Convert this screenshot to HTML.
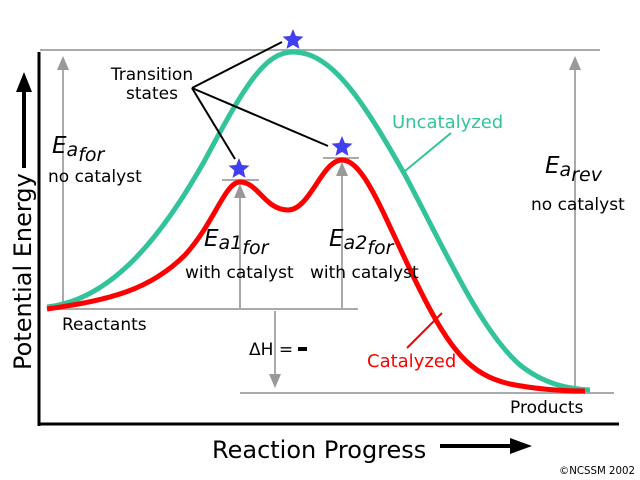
<!DOCTYPE html>
<html><head><style>
html,body{margin:0;padding:0;background:#fff;}
svg{display:block;}
text{font-family:"DejaVu Sans","Liberation Sans",sans-serif;}
</style></head><body>
<svg width="640" height="480" viewBox="0 0 640 480" xmlns="http://www.w3.org/2000/svg">
<g stroke="#aaa" stroke-width="2" fill="none">
<line x1="40" y1="50" x2="600" y2="50"/>
<line x1="47" y1="309" x2="358" y2="309"/>
<line x1="240" y1="393" x2="614" y2="393"/>
<line x1="222" y1="180" x2="259" y2="180"/>
<line x1="323" y1="158" x2="359" y2="158"/>
</g>
<g stroke="#aaa" stroke-width="2">
<line x1="63" y1="309" x2="63" y2="65"/>
<line x1="575" y1="393" x2="575" y2="65"/>
<line x1="240" y1="309" x2="240" y2="195"/>
<line x1="342" y1="309" x2="342" y2="173"/>
<line x1="275" y1="311" x2="275" y2="375"/>
</g>
<g fill="#999">
<path d="M57,70 L63,56 L69,70 z"/>
<path d="M569,70 L575,56 L581,70 z"/>
<path d="M234,198 L240,184 L246,198 z"/>
<path d="M336,176 L342,162 L348,176 z"/>
<path d="M269,374 L275,388 L281,374 z"/>
</g>
<path d="M47,307 C110,300 160,240 205,160 C245,85 265,52 293,52 C330,52 360,95 405,175 C445,250 480,330 520,365 C545,385 570,389 590,390" stroke="#33c39b" stroke-width="5" fill="none"/>
<path d="M47,309 C110,300 150,290 185,255 C215,222 225,182 240,182 C258,182 265,210 288,210 C310,210 322,160 342,160 C365,160 385,220 420,290 C450,350 470,375 510,384 C540,390 565,391 585,391" stroke="#f00" stroke-width="5" fill="none"/>
<line x1="39" y1="52" x2="39" y2="426" stroke="#000" stroke-width="3"/>
<line x1="38" y1="424" x2="619" y2="424" stroke="#000" stroke-width="3"/>
<line x1="24" y1="168" x2="24" y2="88" stroke="#000" stroke-width="4"/>
<path d="M16,92 L24,72 L32,92 z" fill="#000"/>
<line x1="440" y1="446" x2="515" y2="446" stroke="#000" stroke-width="4"/>
<path d="M510,438 L532,446 L510,454 z" fill="#000"/>
<g stroke="#000" stroke-width="2">
<line x1="192" y1="88" x2="282" y2="42"/>
<line x1="192" y1="88" x2="235" y2="159"/>
<line x1="192" y1="88" x2="328" y2="146"/>
</g>
<line x1="451" y1="133" x2="405" y2="171" stroke="#33c39b" stroke-width="2"/>
<line x1="442" y1="313" x2="407" y2="348" stroke="#f00" stroke-width="2"/>
<g fill="#4040f0">
<polygon points="293,29 295.9,36 303.5,36.6 297.7,41.5 299.5,48.9 293,45 286.5,48.9 288.3,41.5 282.5,36.6 290.1,36"/>
<polygon points="239,158 241.9,165 249.5,165.6 243.7,170.5 245.5,177.9 239,174 232.5,177.9 234.3,170.5 228.5,165.6 236.1,165"/>
<polygon points="342,136 344.9,143 352.5,143.6 346.7,148.5 348.5,155.9 342,152 335.5,155.9 337.3,148.5 331.5,143.6 339.1,143"/>
</g>
<g font-size="17" fill="#000">
<text x="152" y="80" text-anchor="middle">Transition</text>
<text x="152" y="99" text-anchor="middle">states</text>
<text x="48" y="182">no catalyst</text>
<text x="531" y="210">no catalyst</text>
<text x="185" y="278">with catalyst</text>
<text x="310" y="278">with catalyst</text>
<text x="62" y="330">Reactants</text>
<text x="510" y="413">Products</text>
<text x="249" y="355">ΔH =</text>
</g>
<rect x="298" y="347" width="9" height="4" fill="#000"/>
<g font-size="23" font-style="italic" fill="#000">
<text x="52" y="153">E<tspan font-size="19" dy="3">a</tspan><tspan font-size="19" dy="5">for</tspan></text>
<text x="545" y="173">E<tspan font-size="19" dy="3">a</tspan><tspan font-size="19" dy="5">rev</tspan></text>
<text x="204" y="246">E<tspan font-size="19" dy="3">a1</tspan><tspan font-size="19" dy="5">for</tspan></text>
<text x="329" y="246">E<tspan font-size="19" dy="3">a2</tspan><tspan font-size="19" dy="5">for</tspan></text>
</g>
<text x="392" y="128" font-size="18" fill="#33c39b">Uncatalyzed</text>
<text x="367" y="367" font-size="18" fill="#f00">Catalyzed</text>
<text x="212" y="458" font-size="24" fill="#000">Reaction Progress</text>
<text transform="translate(31,370) rotate(-90)" font-size="24" fill="#000">Potential Energy</text>
<text x="559" y="474" font-size="11" fill="#000" textLength="76" lengthAdjust="spacingAndGlyphs">©NCSSM 2002</text>
</svg>
</body></html>
